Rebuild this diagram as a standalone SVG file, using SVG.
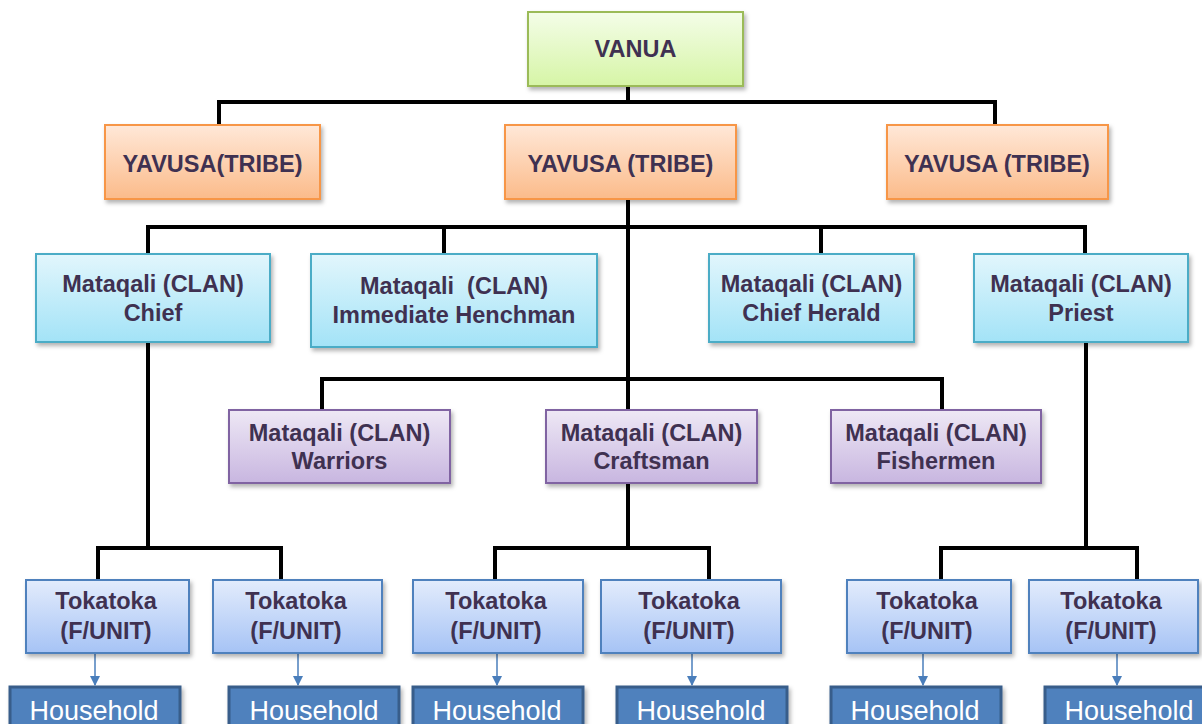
<svg xmlns="http://www.w3.org/2000/svg" width="1202" height="724" viewBox="0 0 1202 724">
  <defs>
    <linearGradient id="gGreen" x1="0" y1="0" x2="0" y2="1">
      <stop offset="0" stop-color="#F4FDE8"/>
      <stop offset="1" stop-color="#D6F5A6"/>
    </linearGradient>
    <linearGradient id="gOrange" x1="0" y1="0" x2="0" y2="1">
      <stop offset="0" stop-color="#FFE8D8"/>
      <stop offset="1" stop-color="#FBBB8A"/>
    </linearGradient>
    <linearGradient id="gCyan" x1="0" y1="0" x2="0" y2="1">
      <stop offset="0" stop-color="#E2F6FC"/>
      <stop offset="1" stop-color="#A3E3F7"/>
    </linearGradient>
    <linearGradient id="gPurple" x1="0" y1="0" x2="0" y2="1">
      <stop offset="0" stop-color="#EEE8F5"/>
      <stop offset="1" stop-color="#C8B6E0"/>
    </linearGradient>
    <linearGradient id="gBlue" x1="0" y1="0" x2="0" y2="1">
      <stop offset="0" stop-color="#E3ECFC"/>
      <stop offset="1" stop-color="#A6C3F5"/>
    </linearGradient>
    <filter id="shadow" x="-10%" y="-10%" width="130%" height="140%">
      <feDropShadow dx="2" dy="3" stdDeviation="2" flood-color="#000" flood-opacity="0.3"/>
    </filter>
    <marker id="arrow" viewBox="0 0 10 10" refX="9" refY="5" markerWidth="10" markerHeight="10" markerUnits="userSpaceOnUse" orient="auto">
      <path d="M0 0 L10 5 L0 10 Z" fill="#4A7EBB"/>
    </marker>
  </defs>
  <style>
    .box { filter: url(#shadow); stroke-width: 2; }
    .green { fill: url(#gGreen); stroke: #9BBB59; }
    .orange { fill: url(#gOrange); stroke: #F79646; }
    .cyan { fill: url(#gCyan); stroke: #4BACC6; }
    .purple { fill: url(#gPurple); stroke: #8064A2; }
    .blue { fill: url(#gBlue); stroke: #4F81BD; }
    .house { fill: #4F81BD; stroke: #385D8A; stroke-width: 3; filter: url(#shadow); }
    .lbl { font-family: "Liberation Sans", Arial, sans-serif; font-weight: bold; font-size: 23.5px; fill: #3F3151; text-anchor: middle; }
    .hlbl { font-family: "Liberation Sans", Arial, sans-serif; font-size: 27px; fill: #FFFFFF; text-anchor: middle; }
    .wire { fill: none; stroke: #000; stroke-width: 4; stroke-linejoin: miter; stroke-linecap: square; }
    .arr { fill: none; stroke: #4A7EBB; stroke-width: 1.5; marker-end: url(#arrow); }
  </style>

  <!-- hierarchy connectors -->
  <g id="connectors">
    <path class="wire" d="M628 88 V102 M219 123 V102 H995 V123"/>
    <path class="wire" d="M628 201 V408 M148 252 V227 H1085 V252 M444 227 V252 M821 227 V252"/>
    <path class="wire" d="M322 408 V379 H942 V408"/>
    <path class="wire" d="M148 344 V548 M98 578 V548 H281 V578"/>
    <path class="wire" d="M628 485 V548 M495 578 V548 H709 V578"/>
    <path class="wire" d="M1086 344 V548 M941 578 V548 H1137 V578"/>
    <path class="arr" d="M95 654 V685"/>
    <path class="arr" d="M298 654 V685"/>
    <path class="arr" d="M497 654 V685"/>
    <path class="arr" d="M692 654 V685"/>
    <path class="arr" d="M923 654 V685"/>
    <path class="arr" d="M1117 654 V685"/>
  </g>

  <g id="vanua">
    <rect class="box green" x="528" y="12" width="215" height="74"/>
    <text class="lbl" x="635.5" y="57">VANUA</text>
  </g>

  <g id="yavusa-1">
    <rect class="box orange" x="105" y="125" width="215" height="74"/>
    <text class="lbl" x="212.5" y="172">YAVUSA(TRIBE)</text>
  </g>
  <g id="yavusa-2">
    <rect class="box orange" x="505" y="125" width="231" height="74"/>
    <text class="lbl" x="620.5" y="172">YAVUSA (TRIBE)</text>
  </g>
  <g id="yavusa-3">
    <rect class="box orange" x="887" y="125" width="221" height="74"/>
    <text class="lbl" x="997" y="172">YAVUSA (TRIBE)</text>
  </g>

  <g id="clan-chief">
    <rect class="box cyan" x="36" y="254" width="234" height="88"/>
    <text class="lbl" x="153" y="292">Mataqali (CLAN)</text>
    <text class="lbl" x="153" y="321">Chief</text>
  </g>
  <g id="clan-henchman">
    <rect class="box cyan" x="311" y="254" width="286" height="93"/>
    <text class="lbl" x="454" y="294" xml:space="preserve">Mataqali  (CLAN)</text>
    <text class="lbl" x="454" y="323">Immediate Henchman</text>
  </g>
  <g id="clan-herald">
    <rect class="box cyan" x="709" y="254" width="205" height="88"/>
    <text class="lbl" x="811.5" y="292">Mataqali (CLAN)</text>
    <text class="lbl" x="811.5" y="321">Chief Herald</text>
  </g>
  <g id="clan-priest">
    <rect class="box cyan" x="974" y="254" width="214" height="88"/>
    <text class="lbl" x="1081" y="292">Mataqali (CLAN)</text>
    <text class="lbl" x="1081" y="321">Priest</text>
  </g>

  <g id="clan-warriors">
    <rect class="box purple" x="229" y="410" width="221" height="73"/>
    <text class="lbl" x="339.5" y="441">Mataqali (CLAN)</text>
    <text class="lbl" x="339.5" y="469">Warriors</text>
  </g>
  <g id="clan-craftsman">
    <rect class="box purple" x="546" y="410" width="211" height="73"/>
    <text class="lbl" x="651.5" y="441">Mataqali (CLAN)</text>
    <text class="lbl" x="651.5" y="469">Craftsman</text>
  </g>
  <g id="clan-fishermen">
    <rect class="box purple" x="831" y="410" width="210" height="73"/>
    <text class="lbl" x="936" y="441">Mataqali (CLAN)</text>
    <text class="lbl" x="936" y="469">Fishermen</text>
  </g>

  <g id="tokatoka-1">
    <rect class="box blue" x="26" y="580" width="163" height="73"/>
    <text class="lbl" x="106" y="609">Tokatoka</text>
    <text class="lbl" x="106" y="639">(F/UNIT)</text>
  </g>
  <g id="tokatoka-2">
    <rect class="box blue" x="213" y="580" width="169" height="73"/>
    <text class="lbl" x="296" y="609">Tokatoka</text>
    <text class="lbl" x="296" y="639">(F/UNIT)</text>
  </g>
  <g id="tokatoka-3">
    <rect class="box blue" x="413" y="580" width="170" height="73"/>
    <text class="lbl" x="496" y="609">Tokatoka</text>
    <text class="lbl" x="496" y="639">(F/UNIT)</text>
  </g>
  <g id="tokatoka-4">
    <rect class="box blue" x="601" y="580" width="180" height="73"/>
    <text class="lbl" x="689" y="609">Tokatoka</text>
    <text class="lbl" x="689" y="639">(F/UNIT)</text>
  </g>
  <g id="tokatoka-5">
    <rect class="box blue" x="847" y="580" width="164" height="73"/>
    <text class="lbl" x="927" y="609">Tokatoka</text>
    <text class="lbl" x="927" y="639">(F/UNIT)</text>
  </g>
  <g id="tokatoka-6">
    <rect class="box blue" x="1029" y="580" width="169" height="73"/>
    <text class="lbl" x="1111" y="609">Tokatoka</text>
    <text class="lbl" x="1111" y="639">(F/UNIT)</text>
  </g>

  <g id="household-1">
    <rect class="house" x="10" y="687" width="170" height="50"/>
    <text class="hlbl" x="94" y="720">Household</text>
  </g>
  <g id="household-2">
    <rect class="house" x="229" y="687" width="170" height="50"/>
    <text class="hlbl" x="314" y="720">Household</text>
  </g>
  <g id="household-3">
    <rect class="house" x="413" y="687" width="170" height="50"/>
    <text class="hlbl" x="497" y="720">Household</text>
  </g>
  <g id="household-4">
    <rect class="house" x="617" y="687" width="170" height="50"/>
    <text class="hlbl" x="701" y="720">Household</text>
  </g>
  <g id="household-5">
    <rect class="house" x="831" y="687" width="170" height="50"/>
    <text class="hlbl" x="915" y="720">Household</text>
  </g>
  <g id="household-6">
    <rect class="house" x="1045" y="687" width="170" height="50"/>
    <text class="hlbl" x="1129" y="720">Household</text>
  </g>
</svg>
